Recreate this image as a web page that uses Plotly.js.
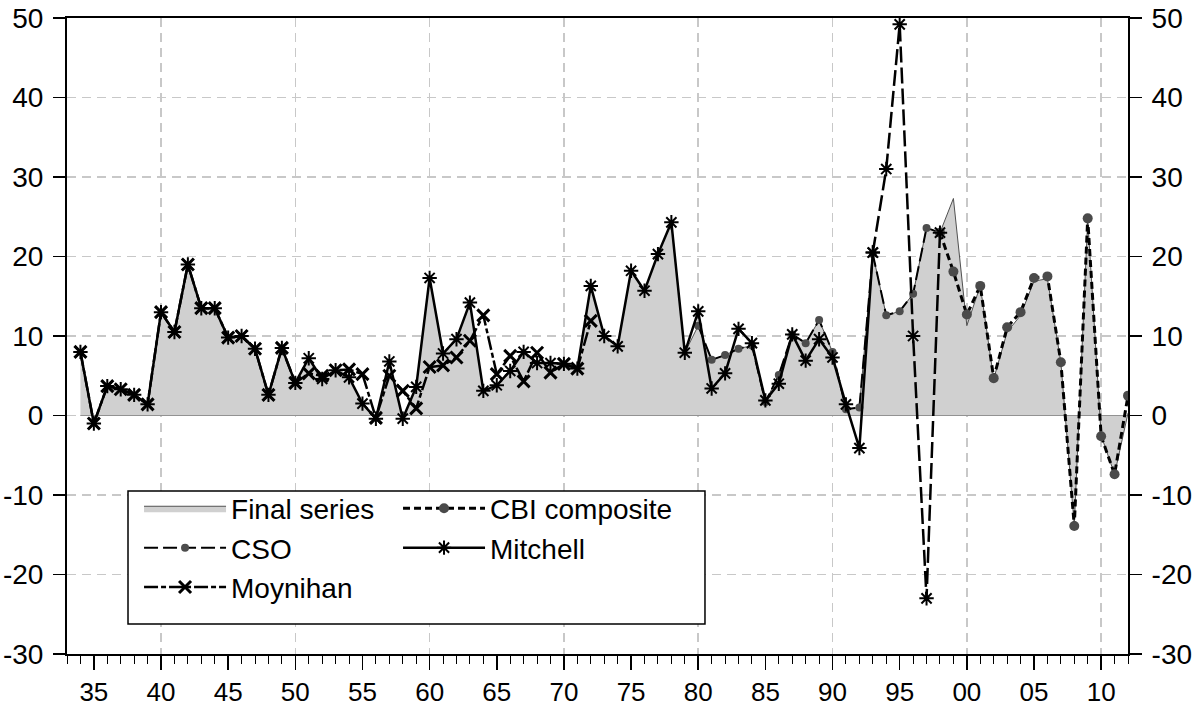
<!DOCTYPE html>
<html><head><meta charset="utf-8">
<script src="https://cdn.plot.ly/plotly-3.0.1.min.js"></script>
<style>html,body{margin:0;padding:0;background:#fff}#chart{width:1195px;height:706px}</style>
</head><body><div id="chart"></div>
<script>
// ---- data ----
const finalYears = [1934,1935,1936,1937,1938,1939,1940,1941,1942,1943,1944,1945,1946,1947,1948,1949,
  1950,1951,1952,1953,1954,1955,1956,1957,1958,1959,1960,1961,1962,1963,1964,1965,1966,1967,1968,1969,
  1970,1971,1972,1973,1974,1975,1976,1977,1978,1979,1980,1981,1982,1983,1984,1985,1986,1987,1988,1989,
  1990,1991,1992,1993,1994,1995,1996,1997,1998,1999,2000,2001,2002,2003,2004,2005,2006,2007,2008,2009,
  2010,2011,2012];
const finalValues = [8.0,-1.0,3.7,3.3,2.6,1.4,13.0,10.5,19.0,13.5,13.5,9.8,10.0,8.4,2.6,8.5,
  4.1,7.2,4.6,5.7,4.8,1.5,-0.4,6.8,-0.4,3.6,17.3,7.8,9.6,14.2,3.1,3.8,5.6,8.0,6.6,6.6,
  6.5,5.9,16.3,10.0,8.7,18.2,15.7,20.3,24.3,7.9,11.3,7.0,7.6,8.4,8.8,1.7,5.1,10.2,9.1,12.0,
  8.0,0.8,1.0,20.3,12.6,13.1,15.3,23.6,23.0,27.3,11.3,16.3,4.6,10.5,12.6,16.9,17.2,6.7,-13.8,24.7,
  -2.5,-7.4,0.3];

const mitchellYears = [1934,1935,1936,1937,1938,1939,1940,1941,1942,1943,1944,1945,1946,1947,1948,1949,
  1950,1951,1952,1953,1954,1955,1956,1957,1958,1959,1960,1961,1962,1963,1964,1965,1966,1967,1968,1969,
  1970,1971,1972,1973,1974,1975,1976,1977,1978,1979,1980,1981,1982,1983,1984,1985,1986,1987,1988,1989,
  1990,1991,1992,1993,1994,1995,1996,1997,1998];
const mitchellValues = [8.0,-1.0,3.7,3.3,2.6,1.4,13.0,10.5,19.0,13.5,13.5,9.8,10.0,8.4,2.6,8.5,
  4.1,7.2,4.6,5.7,4.8,1.5,-0.4,6.8,-0.4,3.6,17.3,7.8,9.6,14.2,3.1,3.8,5.6,8.0,6.6,6.6,
  6.5,5.9,16.3,10.0,8.7,18.2,15.7,20.3,24.3,7.9,13.1,3.4,5.3,10.9,9.1,1.9,4.0,10.2,6.9,9.6,
  7.3,1.4,-4.1,20.5,31.0,49.2,10.0,-23.0,23.0];

const moynihanYears = [1934,1935,1936,1937,1938,1939,1940,1941,1942,1943,1944,1945,1946,1947,1948,1949,
  1950,1951,1952,1953,1954,1955,1956,1957,1958,1959,1960,1961,1962,1963,1964,1965,1966,1967,1968,1969,
  1970,1971,1972];
const moynihanValues = [8.0,-1.0,3.7,3.3,2.6,1.4,13.0,10.5,19.0,13.5,13.5,9.8,10.0,8.4,2.6,8.5,
  4.1,5.3,5.0,5.7,5.8,5.2,-0.3,5.0,3.1,0.9,6.1,6.3,7.3,9.4,12.6,5.2,7.5,4.3,7.9,5.4,
  6.5,5.9,11.9];

const csoYears = [1980,1981,1982,1983,1984,1985,1986,1987,1988,1989,1990,1991,1992,1993,1994,1995,1996,1997,1998];
const csoValues = [11.3,7.0,7.6,8.4,8.8,1.7,5.1,10.2,9.1,12.0,8.0,0.8,1.0,20.3,12.6,13.1,15.3,23.6,23.0];

const cbiYears = [1998,1999,2000,2001,2002,2003,2004,2005,2006,2007,2008,2009,2010,2011,2012];
const cbiValues = [23.0,18.1,12.7,16.3,4.7,11.1,13.0,17.3,17.5,6.7,-13.9,24.8,-2.6,-7.4,2.5];

const xTickVals = [1935,1940,1945,1950,1955,1960,1965,1970,1975,1980,1985,1990,1995,2000,2005,2010];
const xTickText = ['35','40','45','50','55','60','65','70','75','80','85','90','95','00','05','10'];
const xGridVals = [1940,1950,1960,1970,1980,1990,2000,2010];
const yTickVals = [-30,-20,-10,0,10,20,30,40,50];
const yTickText = ['-30','-20','-10','0','10','20','30','40','50'];

// split point of Mitchell: solid up to 1993, long dashed afterwards
const splitIdx = mitchellYears.indexOf(1993);

const FONT = 'Liberation Sans, Arial, sans-serif';

const traces = [
  {x: finalYears, y: finalValues, name: 'Final series', type: 'scatter', mode: 'lines',
   fill: 'tozeroy', fillcolor: '#d0d0d0', line: {color: '#505050', width: 1}, legend: 'legend'},
  {x: csoYears, y: csoValues, name: 'CSO', type: 'scatter', mode: 'lines+markers',
   line: {color: '#000', width: 2, dash: '14px,5px'},
   marker: {symbol: 'circle', size: 8, color: '#4d4d4d'}, legend: 'legend'},
  {x: moynihanYears, y: moynihanValues, name: 'Moynihan', type: 'scatter', mode: 'lines+markers',
   line: {color: '#000', width: 2.5, dash: '14px,3px,5px,3px'},
   marker: {symbol: 'x-thin-open', size: 12, line: {color: '#000', width: 3}}, legend: 'legend'},
  {x: cbiYears, y: cbiValues, name: 'CBI composite', type: 'scatter', mode: 'lines+markers',
   line: {color: '#000', width: 3, dash: '7px,4px'},
   marker: {symbol: 'circle', size: 10, color: '#4a4a4a'}, legend: 'legend2'},
  {x: mitchellYears.slice(0, splitIdx + 1), y: mitchellValues.slice(0, splitIdx + 1), name: 'Mitchell',
   type: 'scatter', mode: 'lines+markers', legendgroup: 'mitchell',
   line: {color: '#000', width: 2.5},
   marker: {symbol: 'asterisk-open', size: 12, line: {color: '#000', width: 2}}, legend: 'legend2'},
  {x: mitchellYears.slice(splitIdx), y: mitchellValues.slice(splitIdx), name: 'Mitchell',
   type: 'scatter', mode: 'lines+markers', legendgroup: 'mitchell', showlegend: false,
   line: {color: '#000', width: 2.5, dash: '16px,5px'},
   marker: {symbol: 'asterisk-open', size: 12, line: {color: '#000', width: 2}}},
  // empty trace so the mirrored right axis and the decade grid axis are drawn
  {x: [], y: [], xaxis: 'x2', yaxis: 'y2', type: 'scatter', mode: 'lines', showlegend: false, hoverinfo: 'skip'}
];

const gridCol = '#c8c8c8';
const yAxisCommon = {
  range: [-30, 50], tickmode: 'array', tickvals: yTickVals, ticktext: yTickText,
  ticks: 'outside', ticklen: 12, tickwidth: 1.5, tickcolor: '#000', ticklabelstandoff: 4,
  tickfont: {family: FONT, size: 28},
  zeroline: false, showline: true, linewidth: 2, linecolor: '#000'
};
const layout = {
  width: 1195, height: 706,
  margin: {l: 67, r: 67, t: 18, b: 52},
  paper_bgcolor: '#fff', plot_bgcolor: '#fff',
  showlegend: true,
  font: {family: FONT, color: '#000'},
  xaxis: {
    range: [1933, 2012], tickmode: 'array', tickvals: xTickVals, ticktext: xTickText,
    ticks: 'outside', ticklen: 14, tickwidth: 1.5, tickcolor: '#000',
    tickfont: {family: FONT, size: 26},
    showgrid: false, zeroline: false,
    showline: true, linewidth: 2, linecolor: '#000', mirror: true,
    minor: {tickmode: 'linear', tick0: 1933, dtick: 1, ticklen: 8, tickwidth: 1, tickcolor: '#000', showgrid: false}
  },
  xaxis2: {
    overlaying: 'x', anchor: 'y2', side: 'bottom', range: [1933, 2012], tickmode: 'array', tickvals: xGridVals,
    showticklabels: false, ticks: '', showgrid: true, gridcolor: gridCol, gridwidth: 1.5, griddash: '9px,6px',
    zeroline: false, showline: false
  },
  yaxis: Object.assign({}, yAxisCommon, {
    showgrid: true, gridcolor: gridCol, gridwidth: 1.5, griddash: '9px,6px'
  }),
  yaxis2: Object.assign({}, yAxisCommon, {
    overlaying: 'y', side: 'right', anchor: 'x2', showgrid: false
  }),
  legend: {
    x: 0.0679, y: 0.268, xanchor: 'left', yanchor: 'top', bgcolor: 'rgba(0,0,0,0)', borderwidth: 0,
    font: {family: FONT, size: 28}, itemwidth: 82, tracegroupgap: 0
  },
  legend2: {
    x: 0.312, y: 0.268, xanchor: 'left', yanchor: 'top', bgcolor: 'rgba(0,0,0,0)', borderwidth: 0,
    font: {family: FONT, size: 28}, itemwidth: 82, tracegroupgap: 0
  },
  shapes: [
    {type: 'rect', xref: 'paper', yref: 'paper', x0: 0.0575, x1: 0.6013, y0: 0.0472, y1: 0.2563,
     fillcolor: '#fff', line: {color: '#000', width: 1.5}, layer: 'above'},
    {type: 'line', xref: 'x', yref: 'y', x0: finalYears[0], x1: finalYears[finalYears.length - 1], y0: 0, y1: 0,
     line: {color: '#555', width: 1}, layer: 'between'}
  ]
};

Plotly.newPlot('chart', traces, layout, {displayModeBar: false, staticPlot: true});
</script>
</body></html>
